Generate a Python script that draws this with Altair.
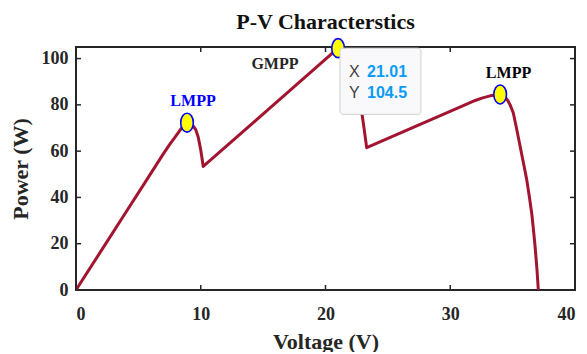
import altair as alt
import pandas as pd

# P-V curve
voltage = [0, 2, 4, 5.5, 7, 7.5, 8, 8.3, 8.6, 8.9, 9.15, 9.4, 9.6, 9.8, 10.0, 10.2,
           21.01, 21.3, 21.6, 21.9, 22.2, 22.5, 22.7, 22.9, 23.1, 23.3,
           31, 32, 32.6, 33.2, 33.6, 34.0, 34.3, 34.6, 34.8, 35.05, 35.3, 35.6,
           35.9, 36.13, 36.35, 36.53, 36.7, 36.8, 36.95, 37.06]
power = [0, 16.8, 33.6, 46.2, 58.8, 62.8, 66.5, 68.8, 70.8, 72.3, 72.0, 70.8, 69.3, 66.0, 60.5, 53.4,
         104.5, 104.0, 102.6, 100.4, 96.5, 90.5, 85.5, 77.0, 69.5, 61.5,
         79.6, 81.9, 83.0, 83.9, 84.3, 84.5, 83.8, 82.0, 80.0, 76.6, 70.2, 62.1,
         54.0, 47.7, 40.0, 33.2, 24.5, 18.8, 9.0, 0]

# maximum power points
mpp_v = [8.9, 21.01, 34.0]
mpp_p = [72.3, 104.5, 84.5]

# point labels
label_text = ["LMPP", "GMPP", "LMPP"]
label_v = [9.38, 15.95, 34.67]
label_p = [81.6, 97.5, 93.6]
label_color = ["#0000ff", "#262626", "#000000"]

# data tip
tip_names = ["X", "Y"]
tip_values = ["21.01", "104.5"]
tip_row_p = [94.2, 85.0]
tip_name_v = [21.88, 21.88]
tip_value_v = [23.33, 23.33]
tip_box_v = [21.16, 27.65]
tip_box_p = [104.5, 75.9]

x_ticks = [0, 10, 20, 30, 40]
y_ticks = [0, 20, 40, 60, 80, 100]

W, H = 499, 243
FONT = "Liberation Serif"
INK = "#262626"

xs = alt.Scale(domain=[0, 40], nice=False, zero=False)
ys = alt.Scale(domain=[0, 105], nice=False, zero=False)

xaxis = alt.Axis(
    values=x_ticks, title="Voltage (V)", grid=False, domain=False, ticks=False,
    labelFont=FONT, labelFontSize=18, labelFontWeight="bold", labelColor=INK,
    labelPadding=15, titleFont=FONT, titleFontSize=22, titleFontWeight="bold",
    titleColor=INK, titlePadding=8)
yaxis = alt.Axis(
    values=y_ticks, title="Power (W)", grid=False, domain=False, ticks=False,
    labelFont=FONT, labelFontSize=18, labelFontWeight="bold", labelColor=INK,
    labelPadding=8, titleFont=FONT, titleFontSize=22, titleFontWeight="bold",
    titleColor=INK, titlePadding=9)


def X(field):
    return alt.X(field, scale=xs, axis=xaxis, title="Voltage (V)")


def Y(field):
    return alt.Y(field, scale=ys, axis=yaxis, title="Power (W)")


curve_df = pd.DataFrame({"V": voltage, "P": power})
mpp_df = pd.DataFrame({"V": mpp_v, "P": mpp_p})
lab_df = pd.DataFrame({"V": label_v, "P": label_p, "t": label_text, "c": label_color})
tip_df = pd.DataFrame({"P": tip_row_p, "n": tip_names, "val": tip_values,
                       "Vn": tip_name_v, "Vv": tip_value_v})
box_df = pd.DataFrame({"V": [tip_box_v[0]], "V2": [tip_box_v[1]],
                       "P": [tip_box_p[0]], "P2": [tip_box_p[1]]})
xt_df = pd.DataFrame({"V": x_ticks})
yt_df = pd.DataFrame({"P": y_ticks})

line = alt.Chart(curve_df).mark_line(
    color="#a2142f", strokeWidth=3, strokeJoin="round"
).encode(x=X("V:Q"), y=Y("P:Q"))

ellipse = "M0,-1.5A1,1.5,0,1,1,0,1.5A1,1.5,0,1,1,0,-1.5Z"
markers = alt.Chart(mpp_df).mark_point(
    shape=ellipse, size=160, filled=True, fill="#ffff00", stroke="#0000ff",
    strokeWidth=1.6, opacity=1
).encode(x=X("V:Q"), y=Y("P:Q"))

labels = alt.Chart(lab_df).mark_text(
    font=FONT, fontSize=16, fontWeight="bold", baseline="middle", align="center"
).encode(x=X("V:Q"), y=Y("P:Q"), text="t:N", color=alt.Color("c:N", scale=None))

box = alt.Chart(box_df).mark_rect(
    fill="#f9f9fb", stroke="#cfcfcf", strokeWidth=1, cornerRadius=3
).encode(x=X("V:Q"), x2="V2:Q", y=Y("P:Q"), y2="P2:Q")

tip_names_m = alt.Chart(tip_df).mark_text(
    font="Liberation Sans", fontSize=16, align="left", baseline="middle", color="#404040"
).encode(x=X("Vn:Q"), y=Y("P:Q"), text="n:N")

tip_vals_m = alt.Chart(tip_df).mark_text(
    font="Liberation Sans", fontSize=16, fontWeight="bold", align="left",
    baseline="middle", color="#0a9bf5"
).encode(x=X("Vv:Q"), y=Y("P:Q"), text="val:N")

tick_style = dict(color=INK, strokeWidth=1.5)
xb = alt.Chart(xt_df).mark_rule(**tick_style).encode(
    x=X("V:Q"), y=alt.value(H), y2=alt.value(H - 5))
xtop = alt.Chart(xt_df).mark_rule(**tick_style).encode(
    x=X("V:Q"), y=alt.value(0), y2=alt.value(5))
yl = alt.Chart(yt_df).mark_rule(**tick_style).encode(
    y=Y("P:Q"), x=alt.value(0), x2=alt.value(5))
yr = alt.Chart(yt_df).mark_rule(**tick_style).encode(
    y=Y("P:Q"), x=alt.value(W), x2=alt.value(W - 5))

chart = alt.layer(
    line, xb, xtop, yl, yr, markers, labels, box, tip_names_m, tip_vals_m
).properties(
    width=W, height=H,
    title=alt.TitleParams("P-V Characterstics", font=FONT, fontSize=22,
                          fontWeight="bold", color="#111111", anchor="middle",
                          offset=1),
    autosize=alt.AutoSizeParams(type="none"),
    padding={"left": 68, "top": 39, "right": 4, "bottom": 62},
    background="white",
).configure_view(
    stroke=INK, strokeWidth=2
)

chart.save("out.html", embed_options={"renderer": "svg", "actions": False})
